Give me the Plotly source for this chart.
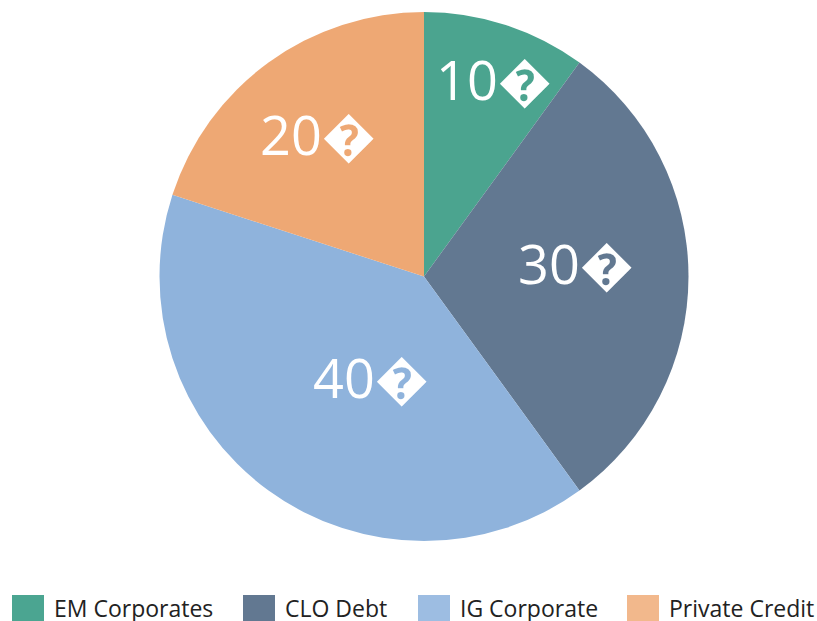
import math

import plotly.graph_objects as go

categories = ["EM Corporates", "CLO Debt", "IG Corporate", "Private Credit"]
values = [10, 30, 40, 20]
labels_text = ["10\ufffd", "30\ufffd", "40\ufffd", "20\ufffd"]
slice_colors = ["#4ba48f", "#627891", "#8fb3dc", "#eea874"]
legend_colors = ["#4ba591", "#627891", "#9dbde2", "#f2b88c"]

W, H = 817, 621
cx, cy, r = 424, 276.5, 264.5

# where each label sits: (angle clockwise from 12 o'clock, fraction of radius)
label_anchor = [(19.5, 0.792), (84.9, 0.577), (207.8, 0.430), (323.4, 0.671)]

fig = go.Figure(
    go.Pie(
        labels=categories,
        values=values,
        textinfo="none",
        marker=dict(colors=slice_colors, line=dict(width=0)),
        sort=False,
        direction="clockwise",
        rotation=0,
        showlegend=False,
        hoverinfo="label+value",
        domain=dict(x=[(cx - r) / W, (cx + r) / W], y=[1 - (cy + r) / H, 1 - (cy - r) / H]),
    )
)

for txt, (ang, f) in zip(labels_text, label_anchor):
    a = math.radians(ang)
    px_x = cx + f * r * math.sin(a)
    px_y = cy - f * r * math.cos(a)
    fig.add_annotation(
        x=px_x / W, y=1 - px_y / H, xref="paper", yref="paper",
        text=txt, showarrow=False, xanchor="center", yanchor="middle",
        font=dict(family="Open Sans", size=54, color="white"),
    )

# legend drawn by hand: swatch + label per category
swatch_x = [12, 243, 418, 627]
for x0, name, col in zip(swatch_x, categories, legend_colors):
    fig.add_shape(
        type="rect", xref="paper", yref="paper",
        x0=x0 / W, x1=(x0 + 32) / W, y0=1 - 621 / H, y1=1 - 595 / H,
        fillcolor=col, line=dict(width=0),
    )
    fig.add_annotation(
        x=(x0 + 40) / W, y=1 - 608 / H, xref="paper", yref="paper",
        text=name, showarrow=False, xanchor="left", yanchor="middle",
        font=dict(family="Open Sans", size=23, color="#222222"),
    )

fig.update_layout(
    width=W, height=H,
    margin=dict(l=0, r=0, t=0, b=0),
    paper_bgcolor="white",
    plot_bgcolor="white",
)

fig.write_html(
    "out.html",
    config={"displayModeBar": False},
    post_script="document.body.style.margin='0';",
)
